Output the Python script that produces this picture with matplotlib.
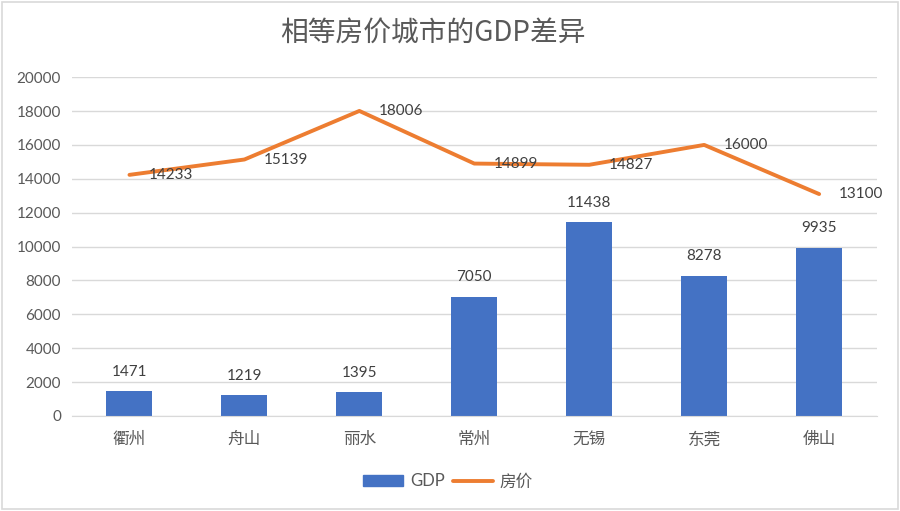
import matplotlib.pyplot as plt
from matplotlib.patches import Rectangle
from matplotlib.lines import Line2D
import numpy as np

plt.rcParams['font.family'] = ['Lato', 'Noto Sans CJK SC', 'DejaVu Sans']

# Data
cities = ['衢州', '舟山', '丽水', '常州', '无锡', '东莞', '佛山']
gdp = [1471, 1219, 1395, 7050, 11438, 8278, 9935]
house_price = [14233, 15139, 18006, 14899, 14827, 16000, 13100]

text_color = '#595959'
bar_color = '#4472C4'
line_color = '#ED7D31'

fig = plt.figure(figsize=(9, 5.11), dpi=100)
ax = fig.add_axes([0.08, 0.186, 0.894, 0.663])

x = np.arange(len(cities))

# Bars
ax.bar(x, gdp, width=0.4, color=bar_color, zorder=2, label='GDP')
for xi, v in zip(x, gdp):
    ax.annotate(str(v), (xi, v), xytext=(0, 9), textcoords='offset points',
                ha='center', va='bottom', fontsize=11, color='#404040')

# Line
ax.plot(x, house_price, color=line_color, linewidth=2.8, zorder=3,
        solid_capstyle='round', label='房价')
for xi, v in zip(x, house_price):
    ax.annotate(str(v), (xi, v), xytext=(14, 0), textcoords='offset points',
                ha='left', va='center', fontsize=11, color='#404040')

# Axes styling
ax.set_xlim(-0.5, len(cities) - 0.5)
ax.set_ylim(0, 20000)
ax.set_yticks(np.arange(0, 20001, 2000))
ax.set_xticks(x)
ax.set_xticklabels(cities)
ax.grid(axis='y', color='#d9d9d9', linewidth=1, zorder=0)
ax.set_axisbelow(True)
ax.spines[['left', 'top', 'right']].set_visible(False)
ax.spines['bottom'].set_color('#d9d9d9')
ax.tick_params(length=0, labelsize=11, colors=text_color, pad=8)
ax.tick_params(axis='x', labelsize=12, pad=11)

fig.text(0.481, 0.935, '相等房价城市的GDP差异', ha='center', va='center',
         fontsize=20, color=text_color, family=['Noto Sans CJK SC', 'DejaVu Sans'])

# Legend
handles = [Rectangle((0, 0), 1, 1, color=bar_color),
           Line2D([0], [0], color=line_color, linewidth=2.8, solid_capstyle='round')]
fig.legend(handles, ['GDP', '房价'], loc='center', bbox_to_anchor=(0.498, 0.058),
           ncol=2, frameon=False, fontsize=12, labelcolor=text_color,
           handlelength=2.4, handleheight=0.7, columnspacing=0.5, handletextpad=0.4)

# Outer border
fig.patches.append(Rectangle((0.002, 0.003), 0.996, 0.994, transform=fig.transFigure,
                             fill=False, edgecolor='#d9d9d9', linewidth=1.2))

fig.savefig('out.png', dpi=100, facecolor='white')
